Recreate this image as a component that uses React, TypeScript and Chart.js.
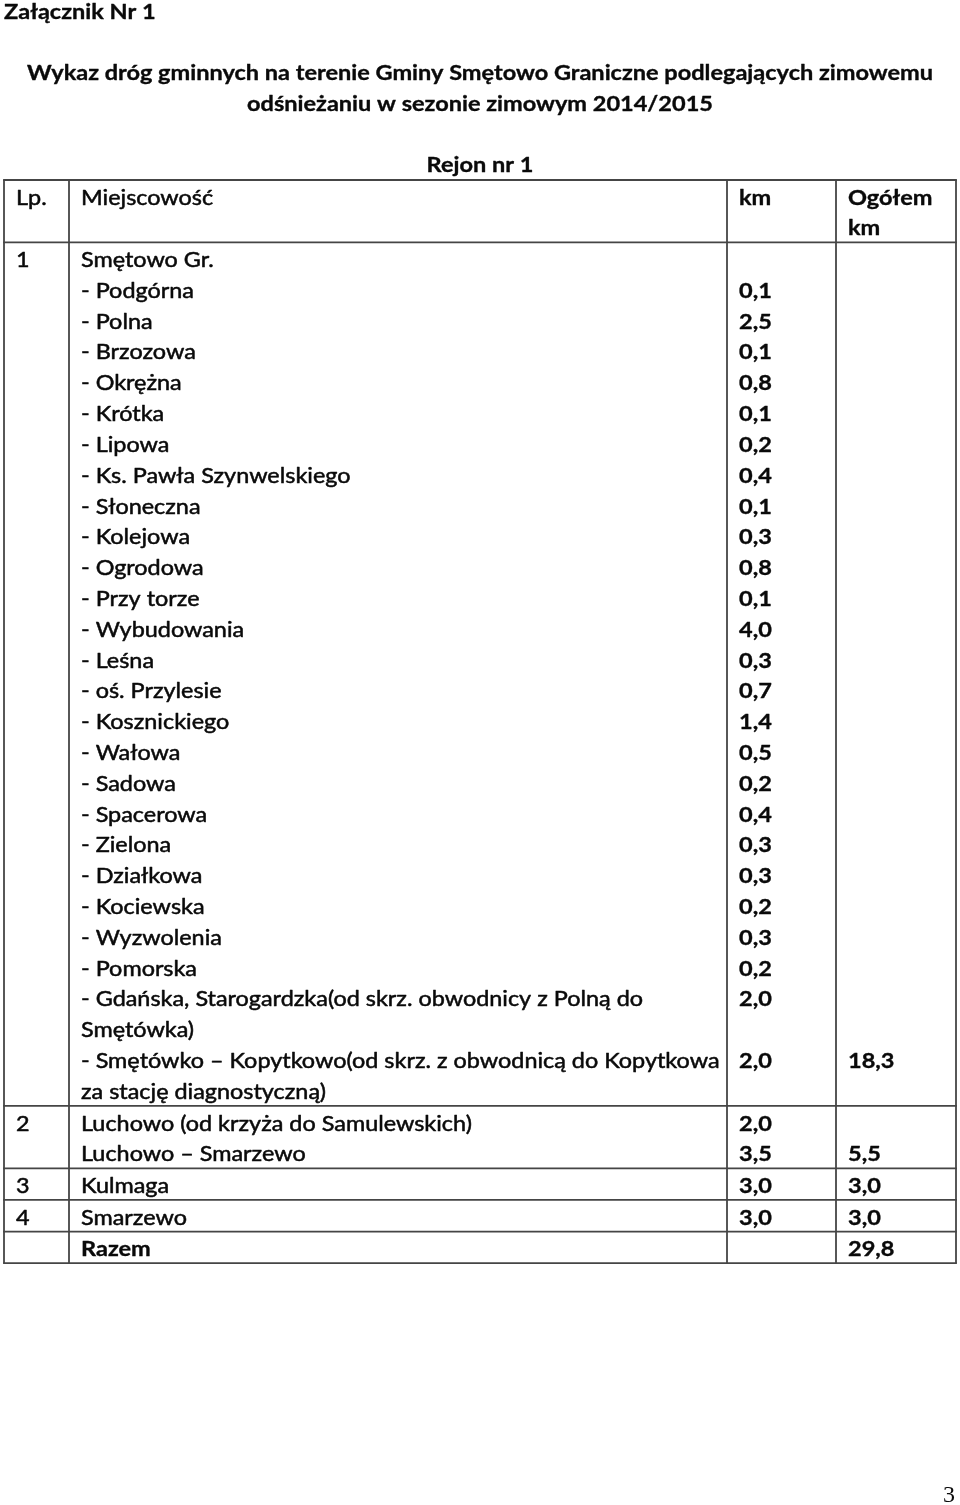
import React, { useEffect, useRef } from 'react';
import { Chart, registerables } from 'chart.js';

Chart.register(...registerables);

// ---------------- data ----------------
const annexLabel = 'Załącznik Nr 1';
const titleLines = [
  'Wykaz dróg gminnych na terenie Gminy Smętowo Graniczne podlegających zimowemu',
  'odśnieżaniu w sezonie zimowym 2014/2015',
];
const regionLabel = 'Rejon nr 1';
const headerLp = ['Lp.'];
const headerPlace = ['Miejscowość'];
const headerKm = ['km'];
const headerTotal = ['Ogółem', 'km'];

const rowNumbers = ['1', '2', '3', '4', ''];
const smetowoHeading = 'Smętowo Gr.';
const smetowoStreets = [
  '- Podgórna',
  '- Polna',
  '- Brzozowa',
  '- Okrężna',
  '- Krótka',
  '- Lipowa',
  '- Ks. Pawła Szynwelskiego',
  '- Słoneczna',
  '- Kolejowa',
  '- Ogrodowa',
  '- Przy torze',
  '- Wybudowania',
  '- Leśna',
  '- oś. Przylesie',
  '- Kosznickiego',
  '- Wałowa',
  '- Sadowa',
  '- Spacerowa',
  '- Zielona',
  '- Działkowa',
  '- Kociewska',
  '- Wyzwolenia',
  '- Pomorska',
  '- Gdańska, Starogardzka(od skrz. obwodnicy z Polną do\nSmętówka)',
  '- Smętówko – Kopytkowo(od skrz. z obwodnicą do Kopytkowa\nza stację diagnostyczną)',
];
const smetowoKm = [
  0.1, 2.5, 0.1, 0.8, 0.1, 0.2, 0.4, 0.1, 0.3, 0.8, 0.1, 4.0, 0.3, 0.7, 1.4,
  0.5, 0.2, 0.4, 0.3, 0.3, 0.2, 0.3, 0.2, 2.0, 2.0,
];
const luchowoRoads = ['Luchowo (od krzyża do Samulewskich)', 'Luchowo – Smarzewo'];
const luchowoKm = [2.0, 3.5];
const kulmagaRoads = ['Kulmaga'];
const kulmagaKm = [3.0];
const smarzewoRoads = ['Smarzewo'];
const smarzewoKm = [3.0];
const rowTotals = [18.3, 5.5, 3.0, 3.0];
const grandTotalLabel = 'Razem';
const grandTotal = 29.8;
const pageNumber = '3';

// ---------------- layout / style ----------------
const W = 960;
const H = 1505;
const COL_EDGES = [4, 69, 727, 836, 956];
const TEXT_X = { lp: 16, place: 81, km: 739, total: 848 };
const TABLE_TOP = 180;
const LINE = 30.81;
const BORDER = 0.8;
const BASE_OFF = 24.6;
const FONT_FAMILY = 'Lato, "Open Sans", sans-serif';
const FONT_SIZE = 21;
const LINE_COLOR = '#454545';
const TEXT_COLOR = '#0a0a0a';

const fmt = (v: number) => v.toFixed(1).replace('.', ',');

type Entry = { lines: string[]; km: number | null; bold?: boolean };
type Group = { num: string; entries: Entry[]; total: number | null };

function buildGroups(): Group[] {
  const g1: Entry[] = [{ lines: [smetowoHeading], km: null }];
  smetowoStreets.forEach((s, i) => g1.push({ lines: s.split('\n'), km: smetowoKm[i] }));
  const mk = (names: string[], kms: number[]) =>
    names.map((n, i) => ({ lines: n.split('\n'), km: kms[i] } as Entry));
  return [
    { num: rowNumbers[0], entries: g1, total: rowTotals[0] },
    { num: rowNumbers[1], entries: mk(luchowoRoads, luchowoKm), total: rowTotals[1] },
    { num: rowNumbers[2], entries: mk(kulmagaRoads, kulmagaKm), total: rowTotals[2] },
    { num: rowNumbers[3], entries: mk(smarzewoRoads, smarzewoKm), total: rowTotals[3] },
    { num: rowNumbers[4], entries: [{ lines: [grandTotalLabel], km: null, bold: true }], total: grandTotal },
  ];
}

type TextItem = { text: string; x: number; y: number; bold: boolean };

function buildLayout() {
  const groups = buildGroups();
  const texts: TextItem[] = [];
  const hLines: number[] = [TABLE_TOP];
  const kmPts: { x: number; y: number; v: number }[] = [];
  const totPts: { x: number; y: number; v: number }[] = [];
  let top = TABLE_TOP;
  const hb = (k: number) => top + BASE_OFF + k * LINE;
  headerLp.forEach((t, k) => texts.push({ text: t, x: TEXT_X.lp, y: hb(k), bold: false }));
  headerPlace.forEach((t, k) => texts.push({ text: t, x: TEXT_X.place, y: hb(k), bold: false }));
  headerKm.forEach((t, k) => texts.push({ text: t, x: TEXT_X.km, y: hb(k), bold: true }));
  headerTotal.forEach((t, k) => texts.push({ text: t, x: TEXT_X.total, y: hb(k), bold: true }));
  top = top + 2 * LINE + BORDER;
  hLines.push(top);
  groups.forEach((g) => {
    let k = 0;
    const b = (kk: number) => top + BASE_OFF + kk * LINE;
    if (g.num) texts.push({ text: g.num, x: TEXT_X.lp, y: b(0), bold: false });
    let lastKmLine = 0;
    g.entries.forEach((e) => {
      e.lines.forEach((ln, j) => {
        texts.push({ text: ln, x: TEXT_X.place, y: b(k + j), bold: !!e.bold });
      });
      if (e.km !== null) {
        kmPts.push({ x: TEXT_X.km, y: b(k), v: e.km });
        lastKmLine = k;
      }
      k += e.lines.length;
    });
    if (g.total !== null) totPts.push({ x: TEXT_X.total, y: b(lastKmLine), v: g.total });
    top = top + k * LINE + BORDER;
    hLines.push(top);
  });
  return { texts, hLines, kmPts, totPts };
}

export default function App() {
  const ref = useRef<HTMLCanvasElement | null>(null);
  useEffect(() => {
    const canvas = ref.current;
    if (!canvas) return;
    const layout = buildLayout();
    const fitLine = smetowoStreets[23].split('\n')[0];

    const tablePlugin = {
      id: 'tablePlugin',
      beforeDraw(chart: any) {
        const c = chart.ctx;
        c.save();
        c.fillStyle = '#ffffff';
        c.fillRect(0, 0, chart.width, chart.height);
        c.restore();
      },
      afterDatasetsDraw(chart: any) {
        const c: CanvasRenderingContext2D = chart.ctx;
        const xs = chart.scales.x;
        const ys = chart.scales.y;
        const px = (v: number) => xs.getPixelForValue(v);
        const py = (v: number) => ys.getPixelForValue(v);
        const regFont = `400 ${FONT_SIZE}px ${FONT_FAMILY}`;
        const boldFont = `700 ${FONT_SIZE}px ${FONT_FAMILY}`;
        c.save();
        c.font = regFont;
        const sxReg = 562 / c.measureText(fitLine).width;
        c.font = boldFont;
        const sxBold = 906 / c.measureText(titleLines[0]).width;
        c.restore();

        const draw = (text: string, x: number, y: number, bold: boolean, align: 'left' | 'center' = 'left') => {
          c.save();
          c.font = bold ? boldFont : regFont;
          c.fillStyle = TEXT_COLOR;
          c.strokeStyle = TEXT_COLOR;
          c.lineWidth = bold ? 0.35 : 0.5;
          c.lineJoin = 'round';
          c.textBaseline = 'alphabetic';
          c.textAlign = align;
          c.translate(px(x), py(y));
          c.scale(bold ? sxBold : sxReg, 1);
          c.fillText(text, 0, 0);
          c.strokeText(text, 0, 0);
          c.restore();
        };

        // table lines
        c.save();
        c.strokeStyle = LINE_COLOR;
        c.lineWidth = 1.8;
        const bottom = layout.hLines[layout.hLines.length - 1];
        layout.hLines.forEach((y) => {
          c.beginPath();
          c.moveTo(px(COL_EDGES[0]) - 0.9, py(y));
          c.lineTo(px(COL_EDGES[4]) + 0.9, py(y));
          c.stroke();
        });
        COL_EDGES.forEach((x) => {
          c.beginPath();
          c.moveTo(px(x), py(TABLE_TOP));
          c.lineTo(px(x), py(bottom));
          c.stroke();
        });
        c.restore();

        // titles
        draw(annexLabel, 4, 18.5, true);
        draw(titleLines[0], W / 2, 80, true, 'center');
        draw(titleLines[1], W / 2, 111, true, 'center');
        draw(regionLabel, W / 2, 171.5, true, 'center');

        layout.texts.forEach((t) => draw(t.text, t.x, t.y, t.bold));

        // km values and totals from dataset elements
        [0, 1].forEach((di) => {
          const meta = chart.getDatasetMeta(di);
          const ds = chart.data.datasets[di];
          meta.data.forEach((el: any, i: number) => {
            const raw = ds.data[i];
            const xv = xs.getValueForPixel(el.x);
            const yv = ys.getValueForPixel(el.y);
            draw(fmt(raw.v), xv, yv, true);
          });
        });

        // page number
        c.save();
        c.font = `400 24px "Liberation Serif", "DejaVu Serif", serif`;
        c.fillStyle = TEXT_COLOR;
        c.textAlign = 'right';
        c.textBaseline = 'alphabetic';
        c.fillText(pageNumber, px(955), py(1501.5));
        c.restore();
      },
    };

    const chart = new Chart(canvas, {
      type: 'scatter',
      data: {
        datasets: [
          { label: 'km', data: layout.kmPts as any, pointRadius: 0, showLine: false },
          { label: 'Ogółem km', data: layout.totPts as any, pointRadius: 0, showLine: false },
        ],
      },
      options: {
        animation: false,
        responsive: false,
        events: [],
        layout: { padding: 0 },
        plugins: { legend: { display: false }, tooltip: { enabled: false } },
        scales: {
          x: { type: 'linear', min: 0, max: W, display: false },
          y: { type: 'linear', min: 0, max: H, reverse: true, display: false },
        },
      },
      plugins: [tablePlugin],
    });
    if ((document as any).fonts && (document as any).fonts.load) {
      Promise.all([
        (document as any).fonts.load(`400 ${FONT_SIZE}px Lato`),
        (document as any).fonts.load(`700 ${FONT_SIZE}px Lato`),
      ]).then(() => {
        try { chart.draw(); } catch (e) { /* ignore */ }
      });
    }
    return () => chart.destroy();
  }, []);

  return (
    <div style={{ position: 'absolute', left: 0, top: 0, width: W, height: H, background: '#fff' }}>
      <canvas ref={ref} width={W} height={H} style={{ display: 'block', width: W, height: H }} />
    </div>
  );
}
